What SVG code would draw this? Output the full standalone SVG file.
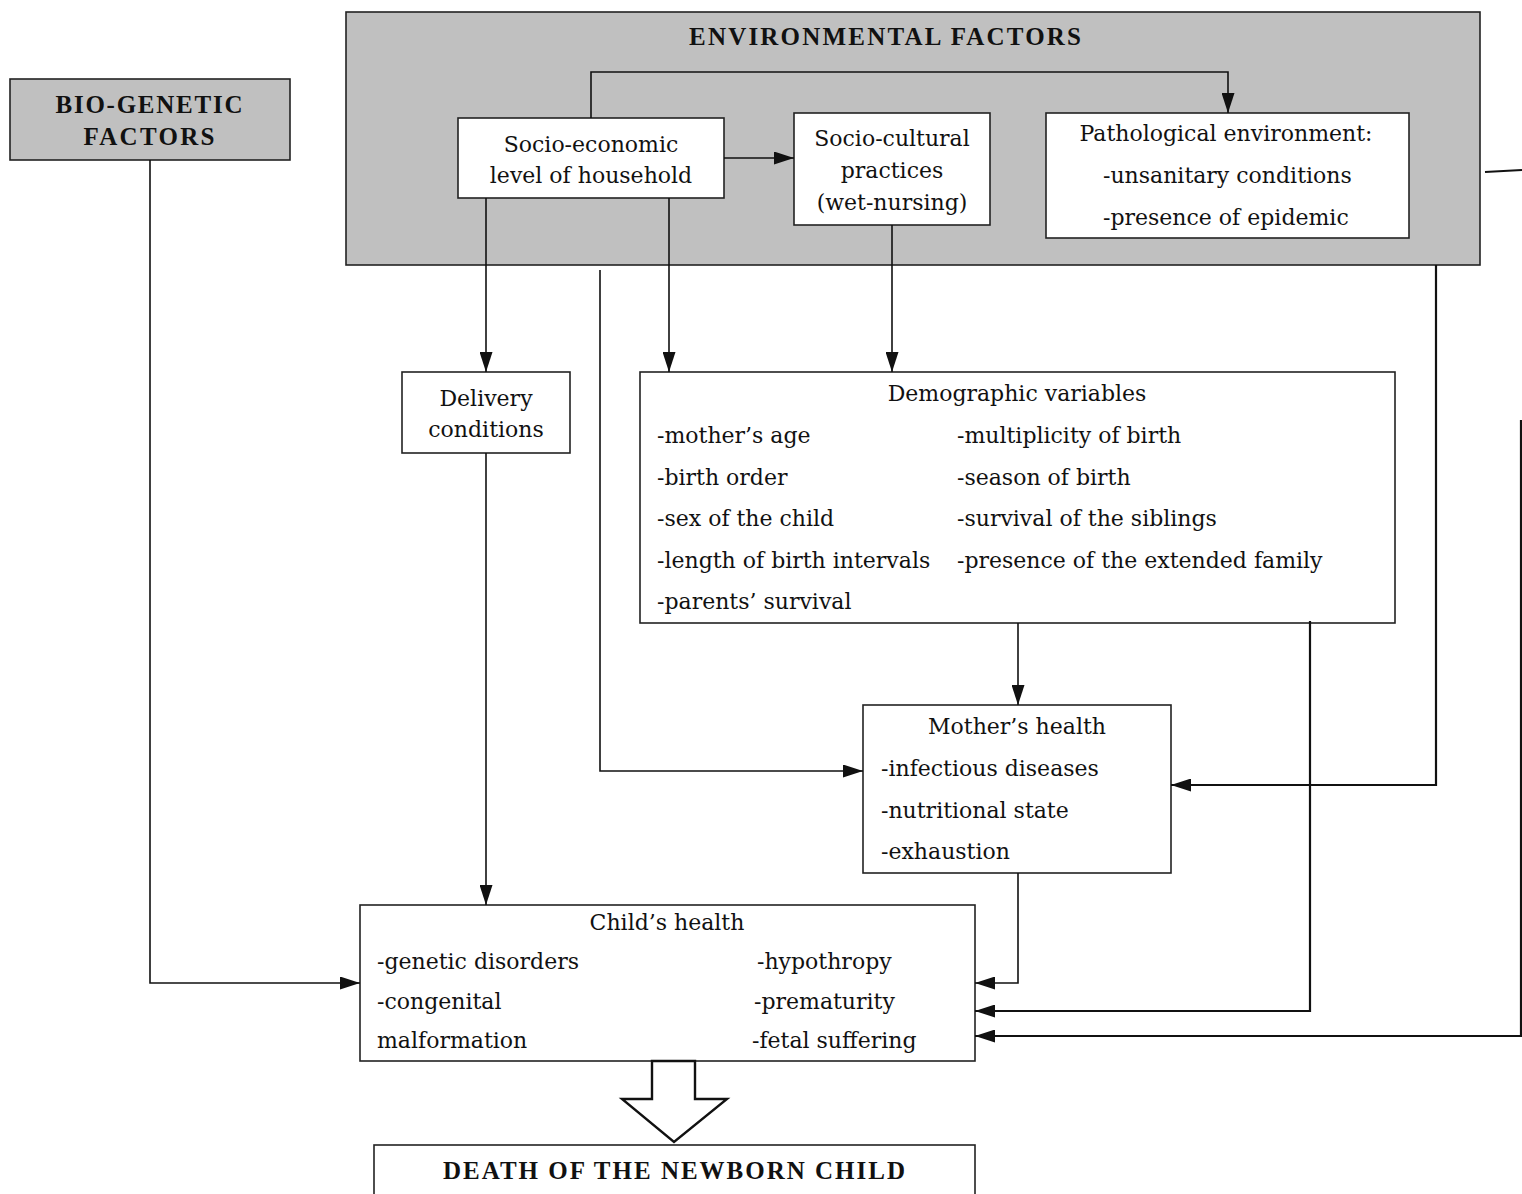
<svg xmlns="http://www.w3.org/2000/svg" width="1522" height="1194" viewBox="0 0 1522 1194">
<style>
.gray{fill:#c0c0c0;stroke:#222;stroke-width:1.6}
.box{fill:#fff;stroke:#222;stroke-width:1.6}
.t{font-family:"DejaVu Serif","Liberation Serif",serif;font-size:22px;fill:#111}
.c{text-anchor:middle}
.h{font-family:"Liberation Serif","DejaVu Serif",serif;font-size:25px;font-weight:bold;fill:#111;text-anchor:middle}
.ln{fill:none;stroke:#111;stroke-width:1.6}
.thick{fill:none;stroke:#111;stroke-width:2.2}
</style>
<defs>
<marker id="ah" viewBox="0 0 20 13" refX="20" refY="6.5" markerWidth="20" markerHeight="13" markerUnits="userSpaceOnUse" orient="auto">
<path d="M0,0 L20,6.5 L0,13 Z" fill="#111"/>
</marker>
</defs>
<rect width="1522" height="1194" fill="#fff"/>

<g id="environmental-factors">
<rect class="gray" x="346" y="12" width="1134" height="253"/>
<text class="h" x="885" y="45" textLength="392" lengthAdjust="spacing">ENVIRONMENTAL FACTORS</text>
</g>

<g id="bio-genetic-factors">
<rect class="gray" x="10" y="79" width="280" height="81"/>
<text class="h" x="149" y="113" textLength="187" lengthAdjust="spacing">BIO-GENETIC</text>
<text class="h" x="149" y="145" textLength="131" lengthAdjust="spacing">FACTORS</text>
</g>

<g id="socio-economic">
<rect class="box" x="458" y="118" width="266" height="80"/>
<text class="t c" x="591" y="152">Socio-economic</text>
<text class="t c" x="591" y="183">level of household</text>
</g>

<g id="socio-cultural">
<rect class="box" x="794" y="113" width="196" height="112"/>
<text class="t c" x="892" y="146">Socio-cultural</text>
<text class="t c" x="892" y="178">practices</text>
<text class="t c" x="892" y="210">(wet-nursing)</text>
</g>

<g id="pathological-environment">
<rect class="box" x="1046" y="113" width="363" height="125"/>
<text class="t c" x="1226" y="141">Pathological environment:</text>
<text class="t" x="1103" y="183">-unsanitary conditions</text>
<text class="t" x="1103" y="225">-presence of epidemic</text>
</g>

<g id="delivery-conditions">
<rect class="box" x="402" y="372" width="168" height="81"/>
<text class="t c" x="486" y="406">Delivery</text>
<text class="t c" x="486" y="437">conditions</text>
</g>

<g id="demographic-variables">
<rect class="box" x="640" y="372" width="755" height="251"/>
<text class="t c" x="1017" y="401">Demographic variables</text>
<text class="t" x="657" y="443">-mother’s age</text>
<text class="t" x="657" y="485">-birth order</text>
<text class="t" x="657" y="526">-sex of the child</text>
<text class="t" x="657" y="568">-length of birth intervals</text>
<text class="t" x="657" y="609">-parents’ survival</text>
<text class="t" x="957" y="443">-multiplicity of birth</text>
<text class="t" x="957" y="485">-season of birth</text>
<text class="t" x="957" y="526">-survival of the siblings</text>
<text class="t" x="957" y="568">-presence of the extended family</text>
</g>

<g id="mothers-health">
<rect class="box" x="863" y="705" width="308" height="168"/>
<text class="t c" x="1017" y="734">Mother’s health</text>
<text class="t" x="881" y="776">-infectious diseases</text>
<text class="t" x="881" y="818">-nutritional state</text>
<text class="t" x="881" y="859">-exhaustion</text>
</g>

<g id="childs-health">
<rect class="box" x="360" y="905" width="615" height="156"/>
<text class="t c" x="667" y="930">Child’s health</text>
<text class="t" x="377" y="969">-genetic disorders</text>
<text class="t" x="377" y="1009">-congenital</text>
<text class="t" x="377" y="1048">malformation</text>
<text class="t" x="757" y="969">-hypothropy</text>
<text class="t" x="754" y="1009">-prematurity</text>
<text class="t" x="752" y="1048">-fetal suffering</text>
</g>

<g id="death-of-newborn">
<rect class="box" x="374" y="1145" width="601" height="60"/>
<text class="h" x="674" y="1179" textLength="462" lengthAdjust="spacing">DEATH OF THE NEWBORN CHILD</text>
</g>

<g id="connectors">
<path class="ln" d="M591,118 V72 H1228 V113" marker-end="url(#ah)"/>
<path class="ln" d="M724,158 H794" marker-end="url(#ah)"/>
<path class="ln" d="M486,198 V372" marker-end="url(#ah)"/>
<path class="ln" d="M669,198 V372" marker-end="url(#ah)"/>
<path class="ln" d="M892,225 V372" marker-end="url(#ah)"/>
<path class="ln" d="M600,270 V771 H863" marker-end="url(#ah)"/>
<path class="ln" d="M1018,623 V705" marker-end="url(#ah)"/>
<path class="thick" d="M1436,265 V785 H1171" marker-end="url(#ah)"/>
<path class="ln" d="M1018,873 V983 H975" marker-end="url(#ah)"/>
<path class="thick" d="M1310,621 V1011 H975" marker-end="url(#ah)"/>
<path class="thick" d="M1485,172 L1522,170"/>
<path class="thick" d="M1521,420 V1036 H975" marker-end="url(#ah)"/>
<path class="ln" d="M486,453 V905" marker-end="url(#ah)"/>
<path class="ln" d="M150,160 V983 H360" marker-end="url(#ah)"/>
<path fill="#fff" stroke="#111" stroke-width="2.4" d="M652,1061 H695 V1099 H727 L674,1142 L622,1099 H652 Z"/>
</g>
</svg>
